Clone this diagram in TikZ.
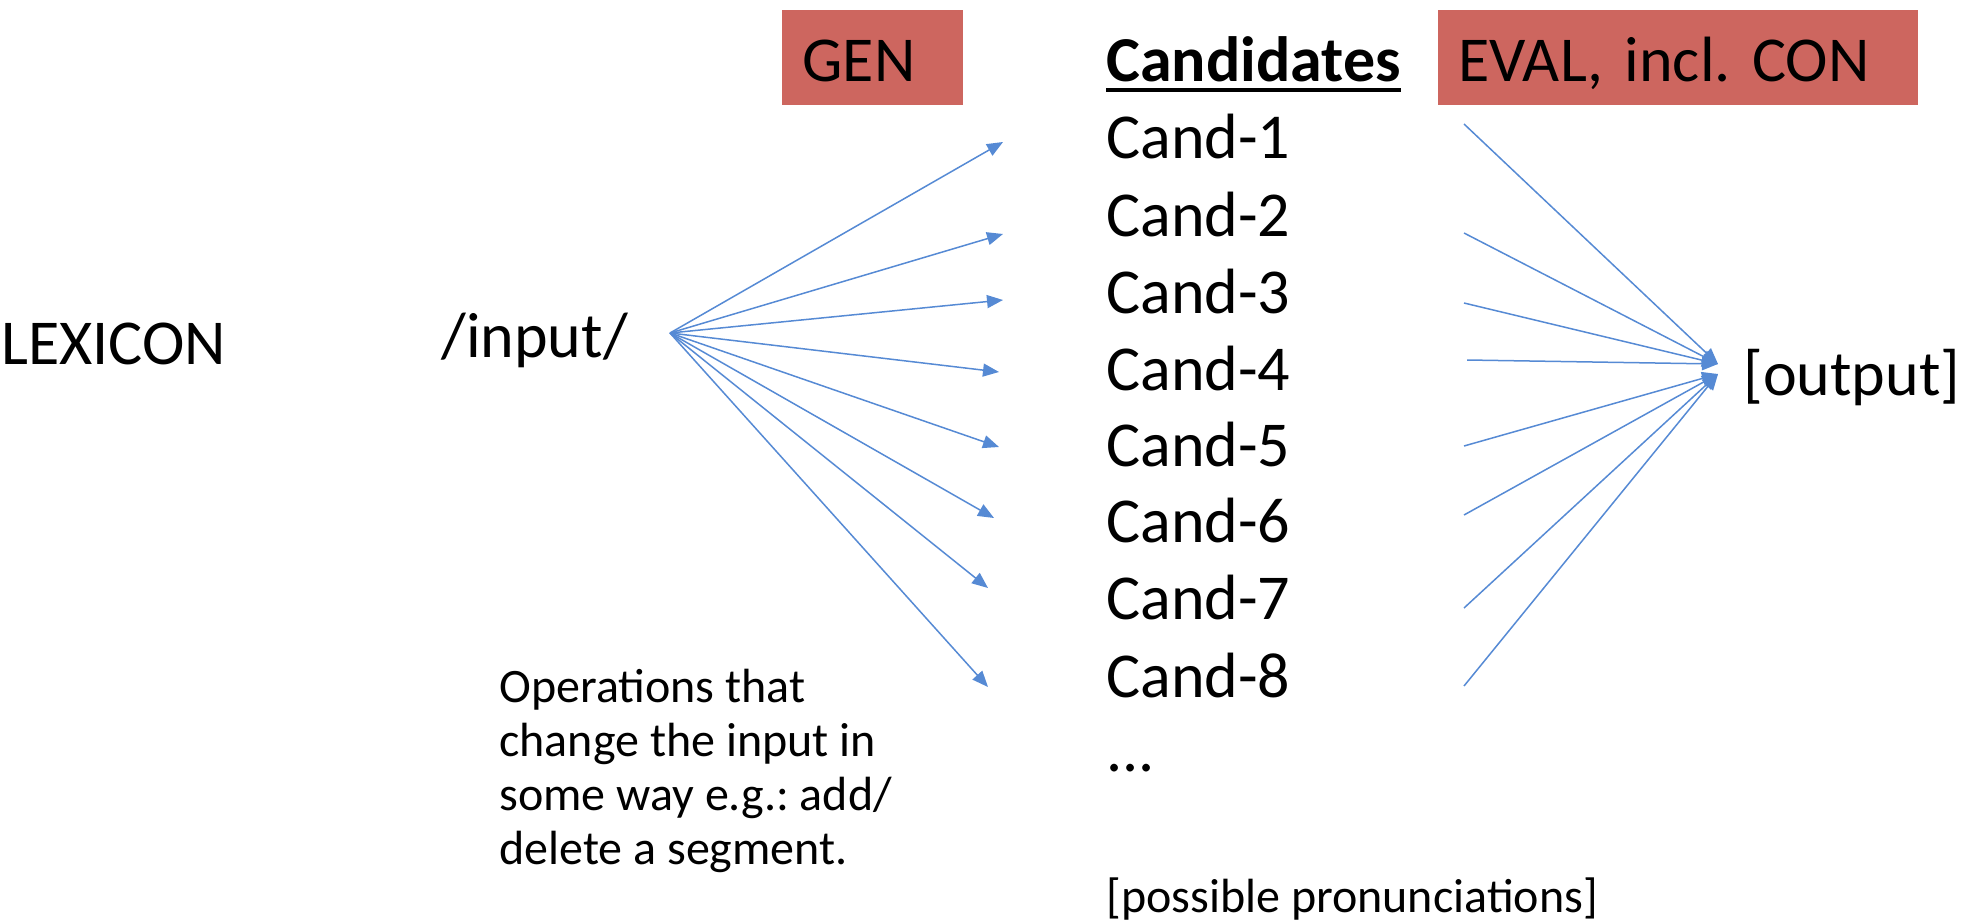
\documentclass[tikz,border=0pt]{standalone}
\usepackage{fontspec}
\setmainfont{Carlito}
\usetikzlibrary{arrows.meta}
\definecolor{genred}{RGB}{205,102,95}
\definecolor{fanblue}{RGB}{86,138,212}
\frenchspacing

\begin{document}
\begin{tikzpicture}[x=0.5pt,y=-0.5pt,
  big/.style={font=\fontsize{32}{38}\selectfont, inner sep=0pt, anchor=base west},
  small/.style={font=\fontsize{24}{27}\selectfont, inner sep=0pt, anchor=base west},
  redbox/.style={fill=genred, anchor=north west, inner xsep=10pt, inner ysep=0pt,
    text height=35.5pt, text depth=12pt, align=left,
    font=\fontsize{32}{38}\selectfont},
  fanarrow/.style={draw=fanblue, line width=0.75pt,
    -{Triangle[length=8pt,width=6.5pt]}}
]
\useasboundingbox (0,0) rectangle (1966,921);

% stage boxes
\node[redbox, text width=70.5pt] (gen) at (782,10) {GEN};
\node[redbox, text width=220pt] (eval) at (1438,10) {EVAL, incl. CON};

% lexicon and input
\node[big] (lex) at (1,364) {LEXICON};
\node[big] (inp) at (441,357) {/input/};

% candidate list
\node[big, font=\fontsize{32}{38}\selectfont\bfseries] (cands) at (1106,81) {Candidates};
\draw[line width=2pt] ([yshift=-4.5pt]cands.base west) -- ([yshift=-4.5pt]cands.base east);
\foreach \i/\y in {1/158,2/236,3/313,4/390,5/466,6/542,7/619,8/697}
  \node[big] (c\i) at (1106,\y) {Cand-\i};
\node[big] (dots) at (1106,771) {...};
\node[small] (poss) at (1106,912) {[possible pronunciations]};

% output
\node[big] (outp) at (1743,395) {[output]};

% operations note
\node[small] (ops) at (499,702) {\begin{tabular}[t]{@{}l@{}}Operations that\\change the input in\\some way e.g.: add/\\delete a segment.\end{tabular}};

% GEN fan: input to candidates
\coordinate (src) at (670,333);
\foreach \i/\x/\y in {1/1003/142,2/1003/234,3/1003/300,4/999/372,5/999/447,6/994/518,7/988/588,8/988/687}
  \coordinate (a\i) at (\x,\y);
\foreach \i in {1,...,8}
  \draw[fanarrow] (src) -- (a\i);

% EVAL fan: candidates to output
\coordinate (out1) at (1718,364);
\coordinate (out2) at (1718,374);
\foreach \i/\x/\y in {1/1464/124,2/1464/233,3/1464/303,4/1467/360,5/1464/446,6/1464/515,7/1464/608,8/1464/686}
  \coordinate (e\i) at (\x,\y);
\foreach \i in {1,...,4}
  \draw[fanarrow] (e\i) -- (out1);
\foreach \i in {5,...,8}
  \draw[fanarrow] (e\i) -- (out2);
\end{tikzpicture}
\end{document}
